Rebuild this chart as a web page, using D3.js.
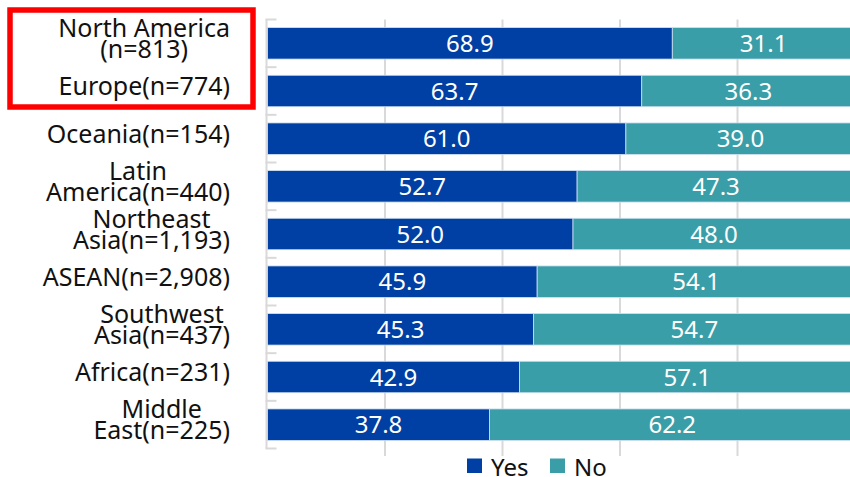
<!DOCTYPE html>
<meta charset="utf-8">
<script src="https://d3js.org/d3.v7.min.js"></script>
<style>
  body { margin: 0; background: #fff; }
  text { font-family: "Noto Sans", "Open Sans", sans-serif; }
</style>
<div id="chart"></div>
<script>

// data
var regions = [
  ["North America", "(n=813)"],
  ["Europe(n=774)"],
  ["Oceania(n=154)"],
  ["Latin", "America(n=440)"],
  ["Northeast", "Asia(n=1,193)"],
  ["ASEAN(n=2,908)"],
  ["Southwest", "Asia(n=437)"],
  ["Africa(n=231)"],
  ["Middle", "East(n=225)"]
]
var yesValues = [68.9, 63.7, 61.0, 52.7, 52.0, 45.9, 45.3, 42.9, 37.8]
var noValues  = [31.1, 36.3, 39.0, 47.3, 48.0, 54.1, 54.7, 57.1, 62.2]
var seriesNames = ["Yes", "No"]
var xTicks = [0, 20, 40, 60, 80, 100]

var colors = {Yes: "#003fa4", No: "#3a9ea8"}

var width = 850, height = 477

var svg = d3.select("#chart")
  .append("svg")
    .attr("width", width)
    .attr("height", height)

var x = d3.scaleLinear()
  .domain([0, 100])
  .range([267.5, 855])

var y = d3.scaleBand()
  .domain(d3.range(regions.length))
  .range([19.5, 448.5])
  .paddingInner(0.34)
  .paddingOuter(0.17)

// band boundaries for the left axis ticks
var step = y.step()
var bounds = d3.range(regions.length + 1).map(function(i) { return 19.5 + i * step })

// vertical gridlines
svg.append("g")
  .selectAll("line")
  .data(xTicks.slice(1))
  .enter()
  .append("line")
    .attr("x1", function(d) { return x(d) })
    .attr("x2", function(d) { return x(d) })
    .attr("y1", 19.5)
    .attr("y2", 456)
    .attr("stroke", "#d9d9d9")
    .attr("stroke-width", 2)

// left axis line with ticks pointing right
svg.append("line")
  .attr("x1", x(0) - 1).attr("x2", x(0) - 1)
  .attr("y1", 19.5).attr("y2", 448.5)
  .attr("stroke", "#d9d9d9")
  .attr("stroke-width", 2)

svg.append("g")
  .selectAll("line")
  .data(bounds)
  .enter()
  .append("line")
    .attr("x1", x(0) - 2)
    .attr("x2", x(0) + 9)
    .attr("y1", function(d) { return d })
    .attr("y2", function(d) { return d })
    .attr("stroke", "#d9d9d9")
    .attr("stroke-width", 2)

// stacked rows
var rows = regions.map(function(r, i) {
  return {i: i, Yes: yesValues[i], No: noValues[i]}
})
var stack = d3.stack().keys(seriesNames)(rows)

var layers = svg.append("g")
  .selectAll("g")
  .data(stack)
  .enter()
  .append("g")
    .attr("fill", function(d) { return colors[d.key] })

layers.selectAll("rect")
  .data(function(d) { return d })
  .enter()
  .append("rect")
    .attr("x", function(d) { return x(d[0]) })
    .attr("y", function(d) { return y(d.data.i) })
    .attr("width", function(d) { return x(d[1]) - x(d[0]) })
    .attr("height", y.bandwidth())
    .attr("stroke", "#cfe0f0")
    .attr("stroke-width", 0.8)

// value labels
layers.selectAll("text")
  .data(function(d) { return d.map(function(p) { p.key = d.key; return p }) })
  .enter()
  .append("text")
    .attr("x", function(d) { return (x(d[0]) + x(d[1])) / 2 })
    .attr("y", function(d) { return y(d.data.i) + y.bandwidth() / 2 })
    .attr("dy", "0.36em")
    .attr("text-anchor", "middle")
    .attr("fill", "#ffffff")
    .attr("font-size", "24px")
    .text(function(d) { return d.data[d.key].toFixed(1) })

// category labels: block right aligned, lines centred within the block
var labelRight = 230
var lineH = 21
regions.forEach(function(lines, i) {
  var cy = y(i) + y.bandwidth() / 2 - 5
  var g = svg.append("g")
  var texts = lines.map(function(t, k) {
    return g.append("text")
      .attr("font-size", "25px")
      .attr("fill", "#111")
      .attr("text-anchor", "middle")
      .attr("y", cy + (k - (lines.length - 1) / 2) * lineH)
      .attr("dy", "0.36em")
      .text(t)
  })
  var w = d3.max(texts, function(t) { return t.node().getComputedTextLength() })
  texts.forEach(function(t) { t.attr("x", labelRight - w / 2) })
})

// red highlight box
svg.append("rect")
  .attr("x", 10)
  .attr("y", 10)
  .attr("width", 243)
  .attr("height", 97)
  .attr("fill", "none")
  .attr("stroke", "#ff0000")
  .attr("stroke-width", 5.5)

// legend
var legend = svg.append("g")
var lx = [467, 550]
seriesNames.forEach(function(name, k) {
  legend.append("rect")
    .attr("x", lx[k])
    .attr("y", 458.5)
    .attr("width", 15)
    .attr("height", 14.5)
    .attr("fill", colors[name])
  legend.append("text")
    .attr("x", lx[k] + 24)
    .attr("y", 476)
    .attr("font-size", "24px")
    .attr("fill", "#111")
    .text(name)
})

</script>
